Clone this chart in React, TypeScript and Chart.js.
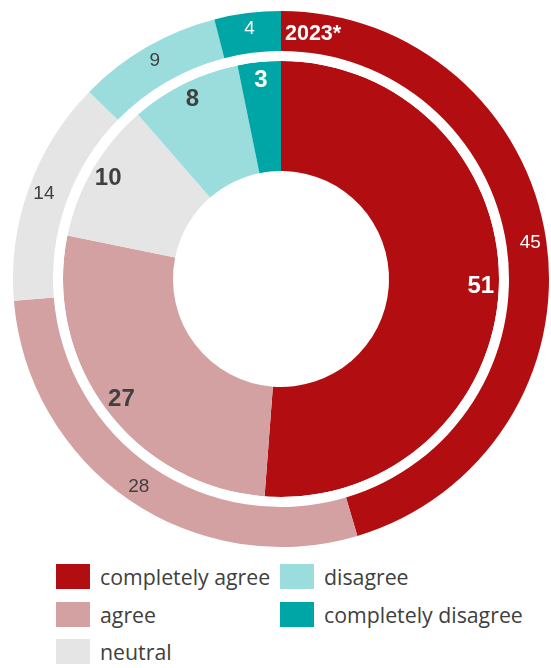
import React, { useEffect, useRef } from "react";
import { Chart, registerables } from "chart.js";

Chart.register(...registerables);

const categories = ["completely agree", "agree", "neutral", "disagree", "completely disagree"];
const outerValues = [45.4, 28.3, 13.6, 8.7, 4.0];
const innerValues = [51.2, 27.0, 10.4, 8.2, 3.2];
const seriesLabel = "2023*";
const colors = ["#B20E11", "#D3A1A1", "#E5E5E5", "#9BDCDC", "#00A6A5"];
const outerTextColors = ["#FFFFFF", "#404040", "#404040", "#404040", "#FFFFFF"];
const innerTextColors = ["#FFFFFF", "#404040", "#404040", "#404040", "#FFFFFF"];

const labelPlugin = {
  id: "ringLabels",
  afterDatasetsDraw(chart: any) {
    const ctx = chart.ctx;
    ctx.save();
    ctx.textAlign = "center";
    ctx.textBaseline = "middle";
    const outerMeta = chart.getDatasetMeta(0);
    ctx.font = "19px 'Liberation Sans', Arial, sans-serif";
    outerMeta.data.forEach((arc: any, i: number) => {
      const p = arc.getProps(["x", "y", "startAngle", "endAngle", "outerRadius"], true);
      const a = (p.startAngle + p.endAngle) / 2;
      const r = p.outerRadius - 16;
      ctx.fillStyle = outerTextColors[i];
      ctx.fillText(String(Math.round(outerValues[i])), p.x + r * Math.cos(a), p.y + r * Math.sin(a));
    });
    const innerMeta = chart.getDatasetMeta(2);
    ctx.font = "bold 24px 'Liberation Sans', Arial, sans-serif";
    innerMeta.data.forEach((arc: any, i: number) => {
      const p = arc.getProps(["x", "y", "startAngle", "endAngle", "outerRadius"], true);
      const a = (p.startAngle + p.endAngle) / 2;
      const r = p.outerRadius - 18;
      ctx.fillStyle = innerTextColors[i];
      ctx.fillText(String(Math.round(innerValues[i])), p.x + r * Math.cos(a), p.y + r * Math.sin(a));
    });
    const first = outerMeta.data[0];
    if (first) {
      const p = first.getProps(["x", "y", "outerRadius"], true);
      ctx.font = "bold 21.5px 'Liberation Sans', Arial, sans-serif";
      ctx.textAlign = "left";
      ctx.fillStyle = "#FFFFFF";
      ctx.fillText(seriesLabel, p.x + 4, p.y - p.outerRadius + 23);
    }
    ctx.restore();
  },
};

export default function App() {
  const ref = useRef<HTMLCanvasElement | null>(null);
  useEffect(() => {
    if (!ref.current) return;
    const chart = new Chart(ref.current, {
      type: "doughnut",
      data: {
        labels: categories,
        datasets: [
          { data: outerValues, backgroundColor: colors, borderWidth: 0, weight: 40 },
          { data: [1], backgroundColor: ["#FFFFFF"], borderWidth: 0, weight: 10 },
          { data: innerValues, backgroundColor: colors, borderWidth: 0, weight: 110 },
        ],
      },
      options: {
        animation: false,
        responsive: false,
        cutout: "40.3%",
        layout: { padding: { left: 11, top: 11, right: 0, bottom: 0 } },
        plugins: { legend: { display: false }, tooltip: { enabled: false } },
      },
      plugins: [labelPlugin],
    });
    return () => chart.destroy();
  }, []);

  const legendItems = [
    { i: 0, left: 56, top: 564 },
    { i: 1, left: 56, top: 602 },
    { i: 2, left: 56, top: 639 },
    { i: 3, left: 280, top: 564 },
    { i: 4, left: 280, top: 602 },
  ];

  return (
    <div style={{ position: "absolute", left: 0, top: 0, width: 551, height: 668, background: "#fff" }}>
      <canvas ref={ref} width={551} height={547} style={{ position: "absolute", left: 0, top: 0, width: 551, height: 547 }} />
      {legendItems.map((it) => (
        <div key={it.i} style={{ position: "absolute", left: it.left, top: it.top, height: 25, display: "flex", alignItems: "center" }}>
          <div style={{ width: 34, height: 25, background: colors[it.i] }} />
          <span style={{ marginLeft: 10, fontFamily: "'Open Sans', sans-serif", fontSize: 21.3, color: "#404040", whiteSpace: "nowrap", lineHeight: "25px" }}>
            {categories[it.i]}
          </span>
        </div>
      ))}
    </div>
  );
}
